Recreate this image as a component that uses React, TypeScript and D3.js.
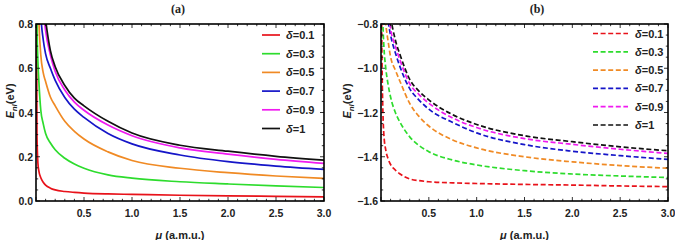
import React from "react";
import * as d3 from "d3";

// ---------- data ----------
const MU = [0.005, 0.01, 0.02, 0.03, 0.05, 0.075, 0.1, 0.15, 0.2, 0.3, 0.4, 0.5, 0.75, 1.0, 1.5, 2.0, 2.5, 3.0];

const DELTA_LABELS = ["δ=0.1", "δ=0.3", "δ=0.5", "δ=0.7", "δ=0.9", "δ=1"];
const COLORS = ["#e8121a", "#2ddc2d", "#f08a24", "#1515c8", "#f01af0", "#111111"];

// panel (a)
const A_D01 = [0.9, 0.3, 0.17, 0.135, 0.105, 0.085, 0.072, 0.058, 0.05, 0.043, 0.039, 0.036, 0.032, 0.03, 0.026, 0.023, 0.021, 0.019];
const A_D03 = [1.1, 0.8, 0.63, 0.54, 0.41, 0.35, 0.305, 0.262, 0.232, 0.193, 0.167, 0.148, 0.118, 0.103, 0.087, 0.077, 0.068, 0.061];
const A_D05 = [2.0, 1.4, 1.0, 0.82, 0.66, 0.58, 0.54, 0.47, 0.43, 0.36, 0.315, 0.28, 0.222, 0.183, 0.148, 0.128, 0.113, 0.102];
const A_D07 = [2.5, 1.8, 1.3, 1.05, 0.84, 0.73, 0.665, 0.6, 0.545, 0.468, 0.415, 0.378, 0.305, 0.258, 0.208, 0.178, 0.158, 0.143];
const A_D09 = [2.9, 2.2, 1.6, 1.3, 1.05, 0.87, 0.77, 0.66, 0.585, 0.502, 0.447, 0.41, 0.343, 0.295, 0.24, 0.212, 0.188, 0.17];
const A_D1 = [3.0, 2.3, 1.7, 1.4, 1.1, 0.92, 0.82, 0.68, 0.607, 0.522, 0.465, 0.43, 0.36, 0.307, 0.252, 0.225, 0.202, 0.185];

// panel (b)
const B_D01 = [-0.7, -0.95, -1.2, -1.3, -1.37, -1.41, -1.435, -1.46, -1.478, -1.5, -1.508, -1.513, -1.518, -1.521, -1.525, -1.528, -1.532, -1.535];
const B_D03 = [-0.4, -0.6, -0.8, -0.9, -1.0, -1.075, -1.13, -1.2, -1.245, -1.31, -1.35, -1.377, -1.415, -1.437, -1.463, -1.478, -1.487, -1.494];
const B_D05 = [-0.2, -0.4, -0.6, -0.7, -0.8, -0.88, -0.948, -1.008, -1.061, -1.159, -1.219, -1.261, -1.324, -1.36, -1.4, -1.423, -1.44, -1.452];
const B_D07 = [0.0, -0.2, -0.45, -0.58, -0.71, -0.79, -0.85, -0.93, -0.995, -1.092, -1.145, -1.185, -1.245, -1.292, -1.345, -1.375, -1.395, -1.412];
const B_D09 = [0.3, 0.0, -0.3, -0.45, -0.6, -0.73, -0.82, -0.9, -0.965, -1.07, -1.12, -1.158, -1.225, -1.268, -1.318, -1.344, -1.366, -1.385];
const B_D1 = [0.5, 0.2, -0.15, -0.35, -0.52, -0.66, -0.76, -0.872, -0.94, -1.05, -1.105, -1.143, -1.21, -1.254, -1.305, -1.332, -1.355, -1.373];

const X_DOMAIN = [0, 3];
const X_MAJOR = [0.5, 1.0, 1.5, 2.0, 2.5, 3.0];
const A_Y_DOMAIN = [0, 0.8];
const A_Y_MAJOR = [0, 0.2, 0.4, 0.6, 0.8];
const B_Y_DOMAIN = [-1.6, -0.8];
const B_Y_MAJOR = [-1.6, -1.4, -1.2, -1.0, -0.8];

const A_SERIES = [A_D01, A_D03, A_D05, A_D07, A_D09, A_D1];
const B_SERIES = [B_D01, B_D03, B_D05, B_D07, B_D09, B_D1];

const SANS = "'Liberation Sans', Arial, sans-serif";
const SERIF = "'Liberation Serif', 'Times New Roman', serif";

type PanelProps = {
  id: string;
  title: string;
  left: number;
  right: number;
  top: number;
  bottom: number;
  yDomain: number[];
  yMajor: number[];
  series: number[][];
  dashed: boolean;
  legendX0: number;
  legendX1: number;
  legendTextX: number;
  legendY0: number;
  legendDy: number;
  yLabelX: number;
  yLabelY: number;
  titleX: number;
};

function Panel(p: PanelProps) {
  const x = d3.scaleLinear().domain(X_DOMAIN).range([p.left, p.right]);
  const y = d3.scaleLinear().domain(p.yDomain).range([p.bottom, p.top]);
  const line = d3
    .line<number>()
    .x((_, i) => x(MU[i]))
    .y((v) => y(v))
    .curve(d3.curveMonotoneX);

  const xMinor = d3.range(0, 3.0001, 0.1);
  const yMinor = d3.range(p.yDomain[0], p.yDomain[1] + 0.0001, 0.05);
  const isMajorX = (v: number) => Math.abs(v * 2 - Math.round(v * 2)) < 1e-6;
  const isMajorY = (v: number) => Math.abs(v * 5 - Math.round(v * 5)) < 1e-6;
  const fmt = d3.format(".1f");
  const dash = p.dashed ? "5,2.6" : undefined;

  return (
    <g>
      <defs>
        <clipPath id={"clip-" + p.id}>
          <rect x={p.left} y={p.top} width={p.right - p.left} height={p.bottom - p.top} />
        </clipPath>
      </defs>
      <g clipPath={`url(#clip-${p.id})`}>
        {p.series.map((s, i) => (
          <path
            key={i}
            d={line(s) || ""}
            fill="none"
            stroke={COLORS[i]}
            strokeWidth={1.7}
            strokeDasharray={dash}
          />
        ))}
      </g>
      {/* ticks */}
      {xMinor.map((v, i) => {
        const len = isMajorX(v) ? 4 : 2.2;
        const xx = x(v);
        return (
          <g key={"xt" + i} stroke="#000" strokeWidth={0.8}>
            <line x1={xx} x2={xx} y1={p.bottom} y2={p.bottom - len} />
            <line x1={xx} x2={xx} y1={p.top} y2={p.top + len} />
          </g>
        );
      })}
      {yMinor.map((v, i) => {
        const len = isMajorY(v) ? 4 : 2.2;
        const yy = y(v);
        return (
          <g key={"yt" + i} stroke="#000" strokeWidth={0.8}>
            <line x1={p.left} x2={p.left + len} y1={yy} y2={yy} />
            <line x1={p.right} x2={p.right - len} y1={yy} y2={yy} />
          </g>
        );
      })}
      <rect
        x={p.left}
        y={p.top}
        width={p.right - p.left}
        height={p.bottom - p.top}
        fill="none"
        stroke="#000"
        strokeWidth={1.6}
      />
      {/* tick labels */}
      {X_MAJOR.map((v) => (
        <text key={"xl" + v} x={x(v)} y={p.bottom + 15.5} textAnchor="middle" fontFamily={SANS} fontWeight="bold" fontSize={10.5} fill="#222">
          {fmt(v)}
        </text>
      ))}
      {p.yMajor.map((v) => (
        <text key={"yl" + v} x={p.left - 3} y={y(v) + 4} textAnchor="end" fontFamily={SANS} fontWeight="bold" fontSize={10.5} fill="#222">
          {fmt(v)}
        </text>
      ))}
      {/* axis labels */}
      <text x={(p.left + p.right) / 2} y={238.5} textAnchor="middle" fontFamily={SANS} fontWeight="bold" fontSize={11} fill="#222">
        <tspan fontStyle="italic">μ</tspan> (a.m.u.)
      </text>
      <text
        transform={`translate(${p.yLabelX},${p.yLabelY}) rotate(-90)`}
        textAnchor="middle"
        fontFamily={SANS}
        fontWeight="bold"
        fontSize={11}
        fill="#222"
      >
        <tspan fontStyle="italic">E</tspan>
        <tspan fontStyle="italic" fontSize={8} dy={2.5}>nl</tspan>
        <tspan dy={-2.5}>(eV)</tspan>
      </text>
      {/* title */}
      <text x={p.titleX} y={13} textAnchor="middle" fontFamily={SERIF} fontWeight="bold" fontSize={12} fill="#222">
        {p.title}
      </text>
      {/* legend */}
      {DELTA_LABELS.map((lab, i) => {
        const yy = p.legendY0 + i * p.legendDy;
        return (
          <g key={"lg" + i}>
            <line x1={p.legendX0} x2={p.legendX1} y1={yy} y2={yy} stroke={COLORS[i]} strokeWidth={1.7} strokeDasharray={dash} />
            <text x={p.legendTextX} y={yy + 4} fontFamily={SANS} fontWeight="bold" fontSize={11} fill="#222">
              <tspan fontStyle="italic">δ</tspan>
              {lab.slice(1)}
            </text>
          </g>
        );
      })}
    </g>
  );
}

export default function App() {
  return (
    <svg width={675} height={240} style={{ position: "absolute", left: 0, top: 0, background: "#fff" }}>
      <rect width={675} height={240} fill="#fff" />
      <Panel
        id="a"
        title="(a)"
        left={36}
        right={324}
        top={24}
        bottom={201}
        yDomain={A_Y_DOMAIN}
        yMajor={A_Y_MAJOR}
        series={A_SERIES}
        dashed={false}
        legendX0={262}
        legendX1={280}
        legendTextX={286}
        legendY0={35}
        legendDy={18.7}
        yLabelX={14}
        yLabelY={101}
        titleX={178}
      />
      <Panel
        id="b"
        title="(b)"
        left={381}
        right={668}
        top={24}
        bottom={201}
        yDomain={B_Y_DOMAIN}
        yMajor={B_Y_MAJOR}
        series={B_SERIES}
        dashed={true}
        legendX0={593}
        legendX1={628}
        legendTextX={635}
        legendY0={33.5}
        legendDy={18.3}
        yLabelX={351}
        yLabelY={101}
        titleX={537}
      />
    </svg>
  );
}
